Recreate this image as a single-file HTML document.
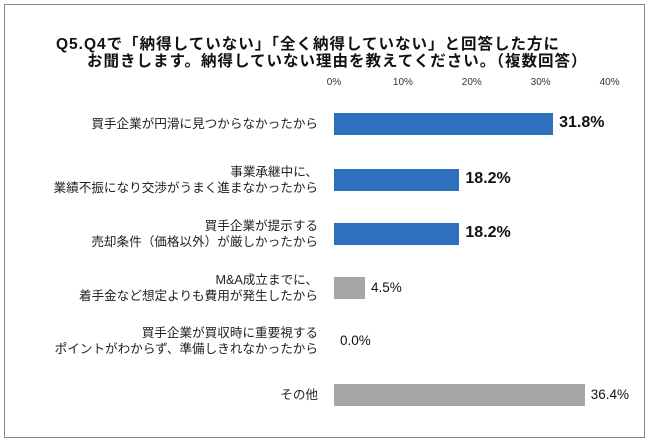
<!DOCTYPE html>
<html><head><meta charset="utf-8"><style>
body{margin:0;background:#fff;font-family:"Liberation Sans","Noto Sans CJK JP",sans-serif;}
#wrap{position:relative;width:650px;height:443px;overflow:hidden;}
.frame{position:absolute;left:4px;top:4px;width:639px;height:432px;border:1px solid #888;}
.title{position:absolute;font-weight:bold;font-size:15.5px;color:#111;white-space:nowrap;letter-spacing:1px;}
.lbl{position:absolute;right:332px;font-size:12.6px;color:#222;text-align:right;line-height:16px;white-space:nowrap;}
.tick{position:absolute;top:77px;font-size:10px;color:#333;transform:translateX(-50%);}
.bar{position:absolute;height:22px;}
.val{position:absolute;white-space:nowrap;color:#111;}
</style></head><body>
<div id="wrap">
<div class="frame"></div>
<div class="title" style="left:56px;top:32px">Q5.Q4で「納得していない」「全く納得していない」と回答した方に</div>
<div class="title" style="left:87px;top:49px">お聞きします。納得していない理由を教えてください。（複数回答）</div>
<div id="plot"></div>
</div>
<script>
const categories=[["買手企業が円滑に見つからなかったから"],["事業承継中に、","業績不振になり交渉がうまく進まなかったから"],["買手企業が提示する","売却条件（価格以外）が厳しかったから"],["M&A成立までに、","着手金など想定よりも費用が発生したから"],["買手企業が買収時に重要視する","ポイントがわからず、準備しきれなかったから"],["その他"]];
const values=[31.8,18.2,18.2,4.5,0.0,36.4];
const ticks=[0,10,20,30,40];
const highlight=[true,true,true,false,false,false];
const x0=334, pxPer=6.89;
const rowY=[124,180,234,288,341,395];
function xs(v){return x0+v*pxPer;}
const wrap=document.getElementById('wrap');
ticks.forEach(t=>{const d=document.createElement('div');d.className='tick';d.style.left=xs(t)+'px';d.textContent=t+'%';


wrap.appendChild(d);});
categories.forEach((c,i)=>{
 const y=rowY[i];
 const l=document.createElement('div');l.className='lbl';l.innerHTML=c.join('<br>');
 l.style.top=(y-c.length*8)+'px';
 
 
 wrap.appendChild(l);
 const b=document.createElement('div');b.className='bar';
 b.style.left=x0+'px';b.style.top=(y-11)+'px';b.style.width=(xs(values[i])-x0)+'px';
 b.style.background=highlight[i]?'#2e70be':'#a6a6a6';
 
 
 wrap.appendChild(b);
 const v=document.createElement('div');v.className='val';
 v.textContent=values[i].toFixed(1)+'%';
 v.style.left=(xs(values[i])+6)+'px';
 if(highlight[i]){v.style.fontWeight='bold';v.style.fontSize='16px';v.style.top=(y-10)+'px';}
 else{v.style.fontSize='13.5px';v.style.top=(y-8)+'px';}
 
 
 wrap.appendChild(v);
});
</script>
</body></html>
